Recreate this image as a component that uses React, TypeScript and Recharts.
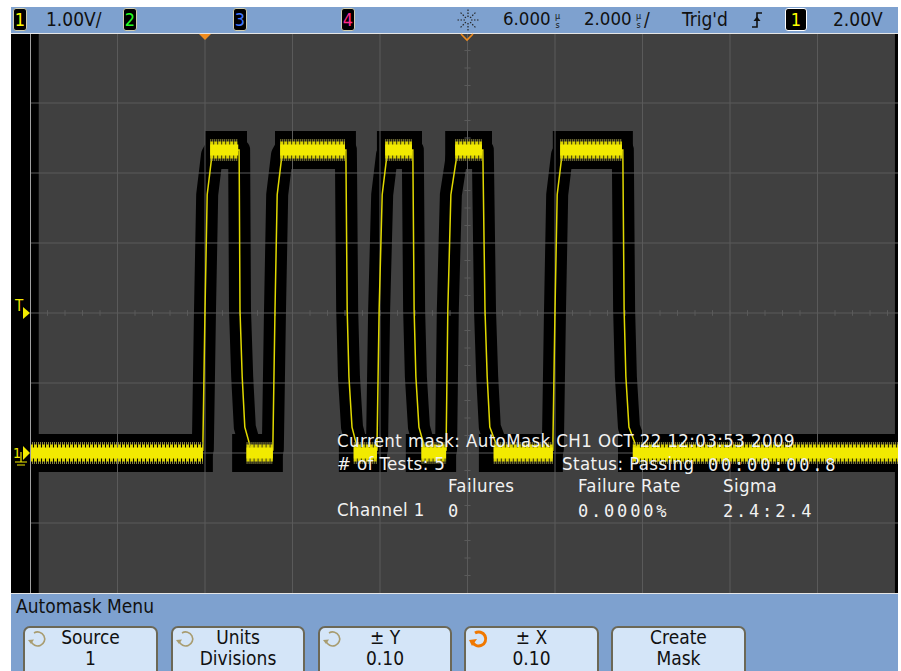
import React from 'react';
import { ComposedChart, Line, XAxis, YAxis, ReferenceLine, ReferenceArea } from 'recharts';

// horizontal 2.000 us/div, delay 6.000 us -> -4 .. 16 us
// vertical 1.00 V/div, offset 2.00 V -> -2 .. 6 V
const timeGrid = [-2, 0, 2, 4, 6, 8, 10, 12, 14];
const voltGrid = [-1, 0, 1, 2, 3, 4, 5];

// channel 1 trace (t in us, v in V)
const trace: [number, number][] = [
  [-4, 0], [-0.05, 0.04],
  [0.0, 2.04], [0.05, 3.69], [0.16, 4.26], [0.22, 4.33], [0.78, 4.33],
  [0.8, 2.04], [0.85, 1.09], [0.91, 0.37], [1.03, 0.1], [1.12, 0], [1.55, 0.04],
  [1.6, 2.04], [1.65, 3.69], [1.76, 4.26], [1.82, 4.33], [3.22, 4.33],
  [3.25, 2.04], [3.29, 1.09], [3.36, 0.37], [3.47, 0.1], [3.56, 0], [3.93, 0.04],
  [3.98, 2.04], [4.05, 3.69], [4.16, 4.26], [4.22, 4.33], [4.75, 4.33],
  [4.78, 2.04], [4.82, 1.09], [4.89, 0.37], [5.01, 0.1], [5.1, 0], [5.51, 0.04],
  [5.55, 2.04], [5.62, 3.69], [5.76, 4.26], [5.82, 4.33], [6.35, 4.33],
  [6.4, 2.04], [6.45, 1.09], [6.51, 0.37], [6.67, 0.1], [6.76, 0], [7.95, 0.04],
  [8.0, 2.04], [8.05, 3.69], [8.16, 4.26], [8.22, 4.33], [9.55, 4.33],
  [9.58, 2.04], [9.62, 1.09], [9.69, 0.37], [9.85, 0.1], [9.94, 0], [16, 0],
];

// persistence noise bands on the flat parts
const lowLevel = 0;
const highLevel = 4.33;
const lowBand: [number, number][] = [[-4, -0.05], [0.95, 1.55], [3.4, 3.93], [4.95, 5.51], [6.6, 7.95], [9.78, 16]];
const highBand: [number, number][] = [[0.12, 0.76], [1.72, 3.2], [4.12, 4.73], [5.72, 6.33], [8.12, 9.53]];

// automask (black) spans along the two levels
const maskLow: [number, number][] = [[-4, 0.18], [0.62, 1.78], [3.06, 4.16], [4.59, 5.74], [6.26, 8.18], [9.44, 16]];
const maskHigh: [number, number][] = [[0.0, 0.96], [1.6, 3.45], [3.93, 4.96], [5.49, 6.56], [7.95, 9.78]];

const traceData = trace.map(([t, v]) => ({ t, v }));
const spans = (list: [number, number][], v: number) =>
  list.flatMap(([a, b]) => [{ t: a, v }, { t: b, v }, { t: b, v: null }]);

const FONT = "'DejaVu Sans Condensed', 'DejaVu Sans', sans-serif";
const MONO = "'DejaVu Sans Mono', monospace";
const BLUE = '#7ea1cf';
const YEL = '#f2ea00';

const Txt = ({ x, y, size = 18.5, color = '#f2f2f2', mono = false, spacing = 0.4, children }: any) => (
  <div style={{
    position: 'absolute', left: x, top: y - size * 0.85, fontSize: size, lineHeight: 1,
    fontFamily: mono ? MONO : FONT, color, whiteSpace: 'nowrap', letterSpacing: spacing
  }}>{children}</div>
);

const ChBox = ({ x, w, n, color, border = '#cfcdb0' }: any) => (
  <div style={{
    position: 'absolute', left: x, top: 8, width: w, height: 23, background: '#000',
    border: `1px solid ${border}`, borderRadius: 3, boxSizing: 'border-box', color,
    fontFamily: FONT, fontSize: 18, lineHeight: '21px', textAlign: 'center'
  }}>{n}</div>
);

// stacked "µs" unit
const MuS = ({ x }: any) => (
  <svg style={{ position: 'absolute', left: x, top: 10 }} width={9} height={20}>
    <text x={4.5} y={9} textAnchor="middle" fontFamily={FONT} fontSize={9} fill="#111">µ</text>
    <text x={4.5} y={18} textAnchor="middle" fontFamily={FONT} fontSize={9} fill="#111">s</text>
  </svg>
);

const Knob = ({ x, y, active }: any) => (
  <svg style={{ position: 'absolute', left: x, top: y }} width={22} height={22}>
    <path d="M7 5 A7 7 0 1 1 4 13" fill="none" stroke={active ? '#f07800' : '#a89c70'} strokeWidth={active ? 3 : 1.6} />
    <path d={active ? 'M1 12 L9 11 L4 18 Z' : 'M1 12 L7 11.5 L4 16 Z'} fill={active ? '#f07800' : '#a89c70'} />
  </svg>
);

const keys = [
  { x: 23, w: 135, l1: 'Source', l2: '1', knob: true, active: false },
  { x: 171, w: 134, l1: 'Units', l2: 'Divisions', knob: true, active: false },
  { x: 318, w: 134, l1: '± Y', l2: '0.10', knob: true, active: false },
  { x: 464, w: 135, l1: '± X', l2: '0.10', knob: true, active: true },
  { x: 611, w: 135, l1: 'Create', l2: 'Mask', knob: false, active: false },
];

const hTicks = Array.from({ length: 49 }, (_, i) => -4 + 0.4 * (i + 1));
const vTicks = Array.from({ length: 31 }, (_, i) => -2 + 0.25 * (i + 1));

const band = (list: [number, number][], level: number, stroke: string, width: number, dash?: string) => (
  <Line data={spans(list, level)} dataKey="v" type="linear" stroke={stroke} strokeWidth={width}
    strokeDasharray={dash} dot={false} isAnimationActive={false} />
);

const Scope = () => (
  <ComposedChart width={875} height={560} margin={{ top: 0, right: 0, bottom: 0, left: 0 }}>
    <XAxis type="number" dataKey="t" domain={[-4, 16]} hide allowDataOverflow />
    <YAxis type="number" dataKey="v" domain={[-2, 6]} hide allowDataOverflow />
    <ReferenceArea x1={-4} x2={16} y1={-2} y2={6} fill="#404040" fillOpacity={1} stroke="none" />
    <ReferenceArea x1={-4} x2={-3.8} y1={-2} y2={6} fill="#000" fillOpacity={1} stroke="none" />
    <ReferenceArea x1={15.77} x2={16} y1={-2} y2={6} fill="#000" fillOpacity={1} stroke="none" />

    {/* mask */}
    <Line data={traceData} dataKey="v" type="linear" stroke="#000" strokeWidth={22} strokeLinejoin="round" strokeLinecap="round" dot={false} isAnimationActive={false} />
    {band(maskLow, lowLevel, '#000', 38)}
    {band(maskHigh, highLevel, '#000', 38)}

    {/* graticule */}
    {timeGrid.map(t => (
      <ReferenceLine key={'x' + t} x={t} stroke="#5a5a5a" strokeWidth={1} />
    ))}
    {voltGrid.map(v => (
      <ReferenceLine key={'y' + v} y={v} stroke="#5a5a5a" strokeWidth={1} />
    ))}
    {hTicks.map(t => (
      <ReferenceLine key={'ht' + t} segment={[{ x: t, y: 1.96 }, { x: t, y: 2.04 }]} stroke="#5a5a5a" />
    ))}
    {vTicks.map(v => (
      <ReferenceLine key={'vt' + v} segment={[{ x: 5.93, y: v }, { x: 6.07, y: v }]} stroke="#5a5a5a" />
    ))}

    {/* trace */}
    <Line data={traceData} dataKey="v" type="linear" stroke="#e0d800" strokeWidth={1.5} dot={false} isAnimationActive={false} />
    {band(lowBand, lowLevel, '#86823e', 22, '1 1')}
    {band(highBand, highLevel, '#86823e', 22, '1 1')}
    {band(lowBand, lowLevel, '#dcd400', 17, '3 1')}
    {band(highBand, highLevel, '#dcd400', 17, '3 1')}
    {band(lowBand, lowLevel, YEL, 11)}
    {band(highBand, highLevel, YEL, 11)}
  </ComposedChart>
);

export default function App() {
  return (
    <div style={{ position: 'absolute', left: 0, top: 0, width: 901, height: 671, background: '#fff', overflow: 'hidden' }}>
      <div style={{ position: 'absolute', left: 11, top: 7, width: 887, height: 664, background: '#000', overflow: 'hidden' }} />

      {/* plot */}
      <div style={{ position: 'absolute', left: 30, top: 33, width: 868, height: 560, overflow: 'hidden' }}>
        <Scope />
      </div>
      <div style={{ position: 'absolute', left: 30, top: 33, width: 1, height: 560, background: '#a0a0a0' }} />

      {/* status bar */}
      <div style={{ position: 'absolute', left: 11, top: 7, width: 887, height: 26, background: BLUE }} />
      <div style={{ position: 'absolute', left: 11, top: 33, width: 887, height: 1, background: '#e6e6e6' }} />
      <ChBox x={13} w={14} n="1" color="#ffff00" />
      <Txt x={46} y={26} size={19} spacing={0} color="#111">1.00V/</Txt>
      <ChBox x={123} w={14} n="2" color="#22ff22" />
      <ChBox x={233} w={14} n="3" color="#3f78ff" />
      <ChBox x={341} w={14} n="4" color="#ff2a8a" />
      <svg style={{ position: 'absolute', left: 456, top: 8 }} width={24} height={24}>
        {[0, 45, 90, 135, 180, 225, 270, 315].map(a => (
          <line key={a} x1={12 + 3 * Math.cos(a * Math.PI / 180)} y1={12 + 3 * Math.sin(a * Math.PI / 180)}
            x2={12 + 11 * Math.cos(a * Math.PI / 180)} y2={12 + 11 * Math.sin(a * Math.PI / 180)}
            stroke="#222" strokeWidth={1.2} strokeDasharray="1.5 1.5" />
        ))}
      </svg>
      <Txt x={503} y={26} size={18.5} spacing={0} color="#111">6.000</Txt>
      <MuS x={553} />
      <Txt x={584} y={26} size={18.5} spacing={0} color="#111">2.000</Txt>
      <MuS x={634} />
      <Txt x={644} y={26} size={19} spacing={0} color="#111">/</Txt>
      <Txt x={682} y={26} size={19} spacing={0} color="#111">Trig'd</Txt>
      <svg style={{ position: 'absolute', left: 750, top: 10 }} width={14} height={20}>
        <path d="M2 17 H7 V3 H12" fill="none" stroke="#111" strokeWidth={1.6} />
        <path d="M3.5 11 L7 6.5 L10.5 11 Z" fill="#111" />
      </svg>
      <ChBox x={785} w={22} n="1" color="#ffff00" border="#ffffff" />
      <Txt x={833} y={26} size={19} spacing={0} color="#111">2.00V</Txt>

      {/* markers */}
      <svg style={{ position: 'absolute', left: 0, top: 0 }} width={901} height={671}>
        <path d="M199 34 L211 34 L205 40 Z" fill="#f08c1e" />
        <path d="M461 34 L467 40 L473 34" fill="none" stroke="#f08c1e" strokeWidth={1.6} />
        <text x={15} y={311} fontFamily={FONT} fontSize={15} fill={YEL}>T</text>
        <path d="M23 307 L30 313 L23 319 Z" fill={YEL} />
        <text x={13} y={458} fontFamily={FONT} fontSize={14} fill={YEL}>1</text>
        <path d="M23 446 L30 453 L23 460 Z" fill={YEL} />
        <path d="M21 452 V462 M15 462 H27 M17 465 H25" stroke={YEL} strokeWidth={1.2} fill="none" />
      </svg>

      {/* mask test readout */}
      <Txt x={337} y={448}>Current mask: AutoMask CH1 OCT 22 12:03:53 2009</Txt>
      <Txt x={337} y={471}># of Tests: 5</Txt>
      <Txt x={562} y={471}>Status: Passing</Txt>
      <Txt x={708} y={471} mono size={17} spacing={2.8}>00:00:00.8</Txt>
      <Txt x={448} y={493}>Failures</Txt>
      <Txt x={578} y={493}>Failure Rate</Txt>
      <Txt x={723} y={493}>Sigma</Txt>
      <Txt x={337} y={517}>Channel 1</Txt>
      <Txt x={448} y={517} mono size={17} spacing={2.8}>0</Txt>
      <Txt x={578} y={517} mono size={17} spacing={2.8}>0.0000%</Txt>
      <Txt x={723} y={517} mono size={17} spacing={2.8}>2.4:2.4</Txt>

      {/* softkey menu */}
      <div style={{ position: 'absolute', left: 11, top: 593, width: 887, height: 1, background: '#e6e6e6' }} />
      <div style={{ position: 'absolute', left: 11, top: 594, width: 887, height: 77, background: BLUE }} />
      <Txt x={16} y={613} size={19} spacing={0} color="#111">Automask Menu</Txt>
      {keys.map(k => (
        <div key={k.x}>
          <div style={{
            position: 'absolute', left: k.x, top: 626, width: k.w, height: 52, background: '#d4e5f8',
            border: '2px solid #6c6856', borderRadius: 7, boxSizing: 'border-box'
          }} />
          <div style={{ position: 'absolute', left: k.x, top: 644 - 16, width: k.w, textAlign: 'center', fontFamily: FONT, fontSize: 19, lineHeight: 1, color: '#111' }}>{k.l1}</div>
          <div style={{ position: 'absolute', left: k.x, top: 665 - 16, width: k.w, textAlign: 'center', fontFamily: FONT, fontSize: 19, lineHeight: 1, color: '#111' }}>{k.l2}</div>
          {k.knob && <Knob x={k.x + 4} y={628} active={k.active} />}
        </div>
      ))}
    </div>
  );
}
